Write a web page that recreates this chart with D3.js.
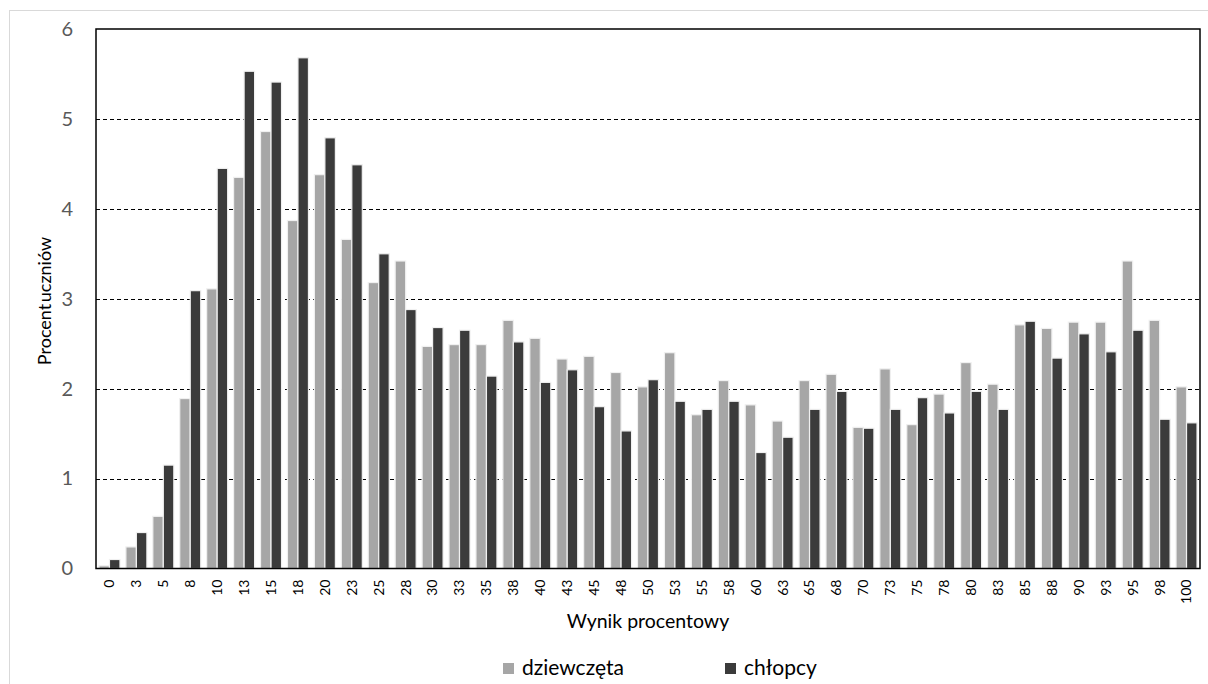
<!DOCTYPE html>
<html>
<head>
<meta charset="utf-8">
<script src="https://cdn.jsdelivr.net/npm/d3@7"></script>
<style>
  html, body { margin: 0; padding: 0; background: #fff; }
  svg { display: block; font-family: Lato, "Open Sans", sans-serif; }
</style>
</head>
<body>
<svg id="chart" width="1208" height="684"></svg>
<script>
const categories = ["0","3","5","8","10","13","15","18","20","23","25","28","30","33","35","38","40","43","45","48","50","53","55","58","60","63","65","68","70","73","75","78","80","83","85","88","90","93","95","98","100"];
const dziewczeta = [0.03,0.24,0.58,1.89,3.11,4.35,4.86,3.87,4.38,3.66,3.18,3.42,2.47,2.49,2.49,2.76,2.56,2.33,2.36,2.18,2.02,2.40,1.71,2.09,1.82,1.64,2.09,2.16,1.57,2.22,1.60,1.94,2.29,2.05,2.71,2.67,2.74,2.74,3.42,2.76,2.02];
const chlopcy = [0.10,0.40,1.15,3.09,4.45,5.53,5.41,5.68,4.79,4.49,3.50,2.88,2.68,2.65,2.14,2.52,2.07,2.21,1.80,1.53,2.10,1.86,1.77,1.86,1.29,1.46,1.77,1.97,1.56,1.77,1.90,1.73,1.97,1.77,2.75,2.34,2.61,2.41,2.65,1.66,1.62];
const seriesNames = ["dziewczęta", "chłopcy"];
const seriesColors = ["#a6a6a6", "#3b3b3b"];
const yTicks = [0,1,2,3,4,5,6];
const xTitle = "Wynik procentowy";
const yTitle = "Procent uczniów";

const svg = d3.select("#chart");
const L = 96, R = 1200, T = 29, B = 568.5;

// outer chart border
svg.append("rect").attr("x", 9.5).attr("y", 10.5).attr("width", 1220).attr("height", 690)
  .attr("fill", "none").attr("stroke", "#d9d9d9").attr("stroke-width", 1);

const x0 = d3.scaleBand().domain(categories).range([L, R]).paddingInner(0.22).paddingOuter(0.11);
const x1 = d3.scaleBand().domain([0, 1]).range([0, x0.bandwidth()]);
const y = d3.scaleLinear().domain([0, 6]).range([B, T]);

// gridlines
svg.append("g").selectAll("line").data(yTicks.filter(t => t > 0 && t < 6)).join("line")
  .attr("x1", L).attr("x2", R)
  .attr("y1", d => Math.round(y(d)) + 0.5).attr("y2", d => Math.round(y(d)) + 0.5)
  .attr("stroke", "#000").attr("stroke-width", 1).attr("stroke-dasharray", "4,3");

// bars
const data = categories.map((c, i) => ({ c, v: [dziewczeta[i], chlopcy[i]] }));
const groups = svg.append("g").selectAll("g").data(data).join("g")
  .attr("transform", d => `translate(${x0(d.c)},0)`);
groups.selectAll("rect").data(d => d.v.map((v, k) => ({ v, k }))).join("rect")
  .attr("x", d => x1(d.k)).attr("width", x1.bandwidth())
  .attr("y", d => y(d.v)).attr("height", d => y(0) - y(d.v))
  .attr("fill", d => seriesColors[d.k])
  .attr("stroke", "#f0f0f0").attr("stroke-width", 1.2);

// plot border
svg.append("rect").attr("x", L).attr("y", T).attr("width", R - L).attr("height", B - T)
  .attr("fill", "none").attr("stroke", "#000").attr("stroke-width", 1.5);

// y axis labels
const yAxis = d3.axisLeft(y).tickValues(yTicks).tickSize(0).tickPadding(23).tickFormat(d3.format("d"));
const gy = svg.append("g").attr("transform", `translate(${L},0)`).call(yAxis);
gy.select(".domain").remove();
gy.selectAll("text").attr("font-size", 20).attr("fill", "#595959").attr("font-family", "Lato, 'Open Sans', sans-serif");

// x axis labels
const xAxis = d3.axisBottom(x0).tickSize(0).tickPadding(0);
const gx = svg.append("g").attr("transform", `translate(0,${B})`).call(xAxis);
gx.select(".domain").remove();
gx.selectAll("text")
  .attr("font-size", 14).attr("fill", "#000").attr("font-family", "Lato, 'Open Sans', sans-serif")
  .attr("text-anchor", "end").attr("dy", "0.35em")
  .attr("transform", "translate(0,11) rotate(-90)")
  .attr("x", 0).attr("y", 0);

// axis titles
svg.append("text").attr("x", 648).attr("y", 628).attr("text-anchor", "middle")
  .attr("font-size", 19.5).attr("fill", "#000").text(xTitle);
svg.append("text").attr("transform", "translate(51,301) rotate(-90)").attr("text-anchor", "middle")
  .attr("font-size", 18).attr("fill", "#000").attr("word-spacing", "-3px").text(yTitle);

// legend
const legX = [503, 725];
const leg = svg.append("g").selectAll("g").data(seriesNames).join("g")
  .attr("transform", (d, i) => `translate(${legX[i]},663)`);
leg.append("rect").attr("width", 11).attr("height", 11).attr("fill", (d, i) => seriesColors[i]);
leg.append("text").attr("x", 19).attr("y", 12).attr("font-size", 21).attr("fill", "#000").text(d => d);
</script>
</body>
</html>
